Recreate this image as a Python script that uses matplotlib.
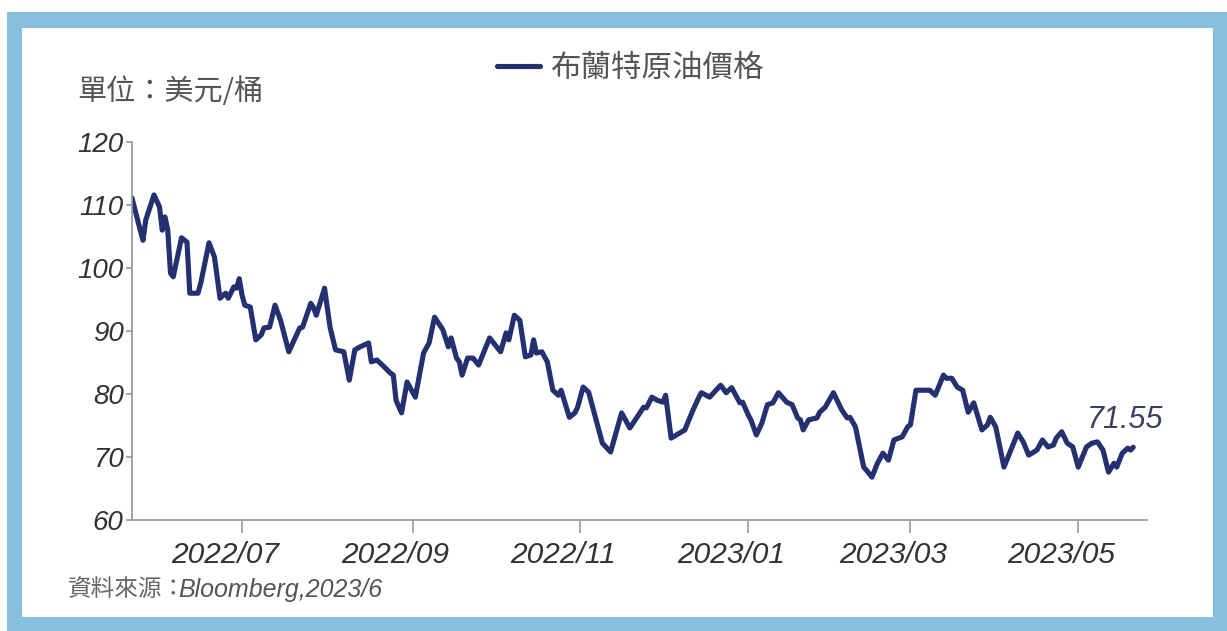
import matplotlib
matplotlib.use("Agg")
import matplotlib.pyplot as plt
import matplotlib.transforms as mtransforms
from matplotlib.patches import Rectangle
import pandas as pd

# ---------------- data ----------------
dates = [
    "2022-05-22", "2022-05-25", "2022-05-26", "2022-05-27", "2022-05-30", "2022-06-01",
    "2022-06-02", "2022-06-03", "2022-06-04", "2022-06-05", "2022-06-06", "2022-06-09",
    "2022-06-11", "2022-06-12", "2022-06-15", "2022-06-16", "2022-06-19", "2022-06-21",
    "2022-06-23", "2022-06-25", "2022-06-26", "2022-06-28", "2022-06-29", "2022-06-30",
    "2022-07-01", "2022-07-02", "2022-07-04", "2022-07-06", "2022-07-08", "2022-07-09",
    "2022-07-11", "2022-07-13", "2022-07-15", "2022-07-18", "2022-07-22", "2022-07-23",
    "2022-07-26", "2022-07-27", "2022-07-28", "2022-07-31", "2022-08-02", "2022-08-04",
    "2022-08-07", "2022-08-09", "2022-08-11", "2022-08-13", "2022-08-16", "2022-08-17",
    "2022-08-19", "2022-08-21", "2022-08-24", "2022-08-25", "2022-08-26", "2022-08-28",
    "2022-08-30", "2022-09-02", "2022-09-05", "2022-09-07", "2022-09-09", "2022-09-12",
    "2022-09-14", "2022-09-15", "2022-09-17", "2022-09-18", "2022-09-19", "2022-09-21",
    "2022-09-23", "2022-09-25", "2022-09-29", "2022-10-03", "2022-10-05", "2022-10-06",
    "2022-10-08", "2022-10-10", "2022-10-12", "2022-10-14", "2022-10-15", "2022-10-16",
    "2022-10-18", "2022-10-20", "2022-10-22", "2022-10-24", "2022-10-25", "2022-10-28",
    "2022-10-30", "2022-10-31", "2022-11-02", "2022-11-04", "2022-11-09", "2022-11-12",
    "2022-11-16", "2022-11-19", "2022-11-24", "2022-11-25", "2022-11-27", "2022-11-29",
    "2022-12-01", "2022-12-02", "2022-12-04", "2022-12-09", "2022-12-10", "2022-12-12",
    "2022-12-14", "2022-12-15", "2022-12-18", "2022-12-22", "2022-12-24", "2022-12-26",
    "2022-12-29", "2022-12-30", "2023-01-01", "2023-01-02", "2023-01-04", "2023-01-06",
    "2023-01-08", "2023-01-10", "2023-01-12", "2023-01-15", "2023-01-17", "2023-01-19",
    "2023-01-20", "2023-01-21", "2023-01-23", "2023-01-26", "2023-01-27", "2023-01-29",
    "2023-02-01", "2023-02-04", "2023-02-06", "2023-02-07", "2023-02-09", "2023-02-12",
    "2023-02-13", "2023-02-15", "2023-02-17", "2023-02-19", "2023-02-21", "2023-02-23",
    "2023-02-26", "2023-02-28", "2023-03-01", "2023-03-03", "2023-03-08", "2023-03-10",
    "2023-03-13", "2023-03-14", "2023-03-16", "2023-03-18", "2023-03-20", "2023-03-22",
    "2023-03-24", "2023-03-27", "2023-03-29", "2023-03-30", "2023-04-01", "2023-04-04",
    "2023-04-09", "2023-04-11", "2023-04-13", "2023-04-16", "2023-04-18", "2023-04-20",
    "2023-04-22", "2023-04-23", "2023-04-25", "2023-04-27", "2023-04-29", "2023-05-01",
    "2023-05-04", "2023-05-06", "2023-05-08", "2023-05-10", "2023-05-12", "2023-05-14",
    "2023-05-15", "2023-05-17", "2023-05-19", "2023-05-20", "2023-05-21",
]
prices = [
    111.1, 106.0, 104.4, 107.6, 111.6, 109.7,
    106.0, 108.1, 106.0, 99.2, 98.6, 104.8,
    104.1, 96.0, 96.0, 97.6, 104.0, 101.7,
    95.2, 96.0, 95.2, 97.0, 96.8, 98.3,
    95.7, 94.1, 93.8, 88.6, 89.4, 90.5,
    90.6, 94.1, 91.7, 86.7, 90.5, 90.6,
    94.4, 93.7, 92.5, 96.8, 90.6, 87.0,
    86.7, 82.2, 87.0, 87.5, 88.1, 85.1,
    85.4, 84.6, 83.3, 83.0, 79.0, 77.0,
    81.9, 79.5, 86.5, 88.1, 92.2, 90.2,
    87.5, 88.9, 85.7, 85.1, 83.0, 85.7,
    85.7, 84.6, 88.9, 86.7, 89.7, 88.6,
    92.5, 91.7, 85.9, 86.2, 88.6, 86.5,
    86.7, 85.1, 80.6, 79.8, 80.6, 76.3,
    77.0, 77.9, 81.1, 80.3, 72.2, 70.8,
    77.0, 74.6, 77.9, 77.8, 79.5, 79.0,
    78.7, 79.8, 73.0, 74.3, 75.4, 77.5,
    79.4, 80.2, 79.5, 81.4, 80.2, 81.0,
    78.6, 78.7, 76.7, 75.9, 73.5, 75.4,
    78.3, 78.6, 80.2, 78.7, 78.3, 76.2,
    75.9, 74.3, 75.9, 76.2, 77.1, 77.9,
    80.2, 77.5, 76.2, 76.3, 74.8, 68.4,
    67.9, 66.8, 69.0, 70.6, 69.5, 72.7,
    73.2, 74.8, 75.1, 80.6, 80.6, 79.8,
    83.0, 82.5, 82.5, 81.1, 80.6, 77.1,
    78.6, 74.3, 75.1, 76.3, 74.8, 68.4,
    73.8, 72.4, 70.3, 71.1, 72.7, 71.6,
    71.9, 73.0, 74.0, 72.2, 71.6, 68.4,
    71.6, 72.2, 72.4, 71.1, 67.6, 69.0,
    68.4, 70.6, 71.4, 71.1, 71.55,
]
series_name = "布蘭特原油價格"
last_label = "71.55"
tick_dates = ["2022-07-01", "2022-09-01", "2022-11-01", "2023-01-01", "2023-03-01", "2023-05-01"]
tick_labels = ["2022/07", "2022/09", "2022/11", "2023/01", "2023/03", "2023/05"]
y_ticks = [60, 70, 80, 90, 100, 110, 120]
unit_text = "單位：美元/桶"
source_cjk = "資料來源："
source_latin = "Bloomberg,2023/6"

# ---------------- figure ----------------
W, H = 1227, 631
fig = plt.figure(figsize=(W / 100, H / 100), dpi=100)
fig.patch.set_facecolor("white")

border_col = "#86bfe0"
fig.add_artist(Rectangle((7 / W, 0), (W - 7) / W, (H - 12) / H,
                         transform=fig.transFigure, facecolor=border_col,
                         edgecolor="none", zorder=-10))
fig.add_artist(Rectangle((22 / W, 14 / H), (1213 - 22) / W, (603 - 14) / H,
                         transform=fig.transFigure, facecolor="white",
                         edgecolor="none", zorder=-9))

ax = fig.add_axes([132 / W, 1 - 520 / H, (1147 - 132) / W, (520 - 142) / H])
ax.set_facecolor("none")

x = pd.to_datetime(dates)
line_col = "#243070"
ax.plot(x, prices, color=line_col, lw=3.7, solid_joinstyle="round",
        solid_capstyle="round", label=series_name)

ax.set_xlim(pd.Timestamp("2022-05-22"), pd.Timestamp("2023-05-26"))
ax.set_ylim(60, 120)

for s in ["top", "right"]:
    ax.spines[s].set_visible(False)
for s in ["left", "bottom"]:
    ax.spines[s].set_color("#9a9a9a")
    ax.spines[s].set_linewidth(1.3)

num_font = dict(family="Liberation Sans", style="italic")
ax.set_yticks(y_ticks)
ax.set_yticklabels([str(v) for v in y_ticks], fontsize=20, color="#333333", **num_font)
ax.tick_params(axis="y", length=4, width=1.2, color="#9a9a9a", pad=2)

ax.set_xticks(pd.to_datetime(tick_dates))
ax.set_xticklabels(tick_labels, fontsize=21.5, color="#333333", **num_font)
ax.tick_params(axis="x", length=9, width=1.2, color="#9a9a9a", pad=6)
offset = mtransforms.ScaledTranslation(-17 / 100, 0, fig.dpi_scale_trans)
for lab in ax.get_xticklabels():
    lab.set_transform(lab.get_transform() + offset)

ax.annotate(last_label, xy=(x[-1], prices[-1]), xytext=(-8, 27),
            textcoords="offset pixels", ha="center", va="center",
            fontsize=22, color="#3a4060", **num_font)

cjk = ["Noto Sans CJK TC", "DejaVu Sans"]
fig.text(77 / W, 1 - 92 / H, unit_text, family=cjk, fontsize=21,
         color="#555555", ha="left", va="center")

leg = fig.legend(loc="center left", bbox_to_anchor=(497 / W, 1 - 68 / H), frameon=False,
                 prop=dict(family=cjk, size=22), handlelength=1.4,
                 handletextpad=0.33, borderpad=0, borderaxespad=0)
for t in leg.get_texts():
    t.set_color("#555555")

fig.text(68 / W, 1 - 590 / H, source_cjk, family=cjk, fontsize=17,
         color="#666666", ha="left", va="center")
fig.text(178 / W, 1 - 590 / H, source_latin, fontsize=18,
         color="#555555", ha="left", va="center", **num_font)

fig.savefig("out.png", dpi=100)
